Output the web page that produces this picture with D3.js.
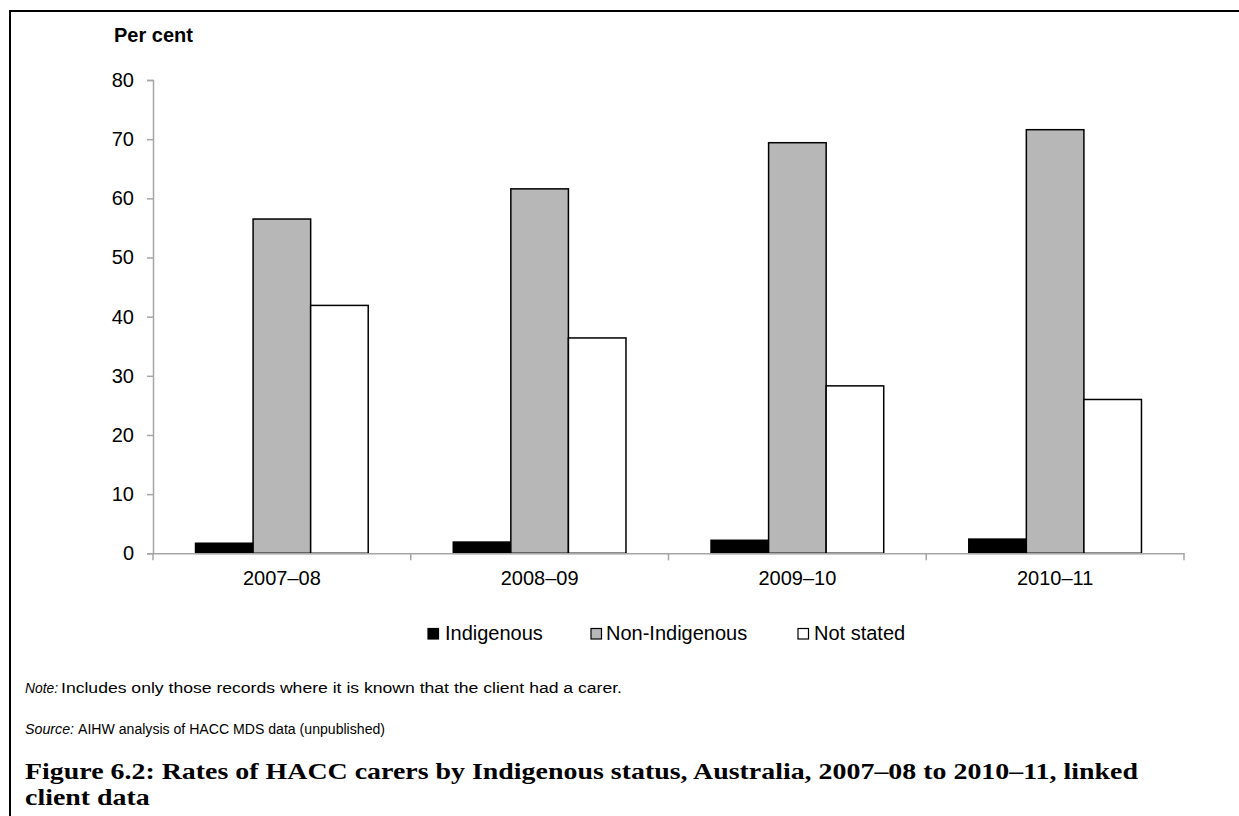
<!DOCTYPE html>
<html>
<head>
<meta charset="utf-8">
<script src="https://cdn.jsdelivr.net/npm/d3@7"></script>
<style>
  html, body { margin: 0; padding: 0; background: #fff; overflow: hidden; }
  svg { display: block; overflow: hidden; }
  text { font-family: Arial, "Liberation Sans", sans-serif; fill: #000; }
</style>
</head>
<body>
<svg id="chart" width="1239" height="816"></svg>
<script>
const categories = ["2007–08", "2008–09", "2009–10", "2010–11"];
const seriesNames = ["Indigenous", "Non-Indigenous", "Not stated"];
const indigenous = [1.7, 1.9, 2.2, 2.4];
const nonIndigenous = [56.5, 61.6, 69.4, 71.6];
const notStated = [41.9, 36.4, 28.3, 26.0];
const yTicks = [0, 10, 20, 30, 40, 50, 60, 70, 80];
const seriesColors = ["#000000", "#b7b7b7", "#ffffff"];

(function () {
const seriesValues = [indigenous, nonIndigenous, notStated];
const data = categories.map((c, i) => ({
  cat: c,
  vals: seriesNames.map((s, j) => ({ series: s, value: seriesValues[j][i], color: seriesColors[j] }))
}));

const svg = d3.select("#chart");

// frame: only the top and left edges fall inside the picture
svg.append("path")
  .attr("d", "M10,830 L10,11 L1260,11")
  .attr("fill", "none").attr("stroke", "#000").attr("stroke-width", 2);

const plotLeft = 153, plotRight = 1184, plotTop = 80, plotBottom = 553.3;

const y = d3.scaleLinear().domain([0, 80]).range([plotBottom, plotTop]);
const x0 = d3.scaleBand().domain(categories).range([plotLeft, plotRight])
  .paddingInner(0.33).paddingOuter(0.165);
const x1 = d3.scaleBand().domain(seriesNames).range([0, x0.bandwidth()]);

const axisColor = "#a6a6a6";

// bars
const g = svg.append("g");
g.selectAll("g.cat").data(data).join("g")
  .attr("class", "cat")
  .attr("transform", d => `translate(${x0(d.cat)},0)`)
  .selectAll("rect").data(d => d.vals).join("rect")
  .attr("x", d => x1(d.series))
  .attr("y", d => y(d.value))
  .attr("width", x1.bandwidth())
  .attr("height", d => y(0) - y(d.value))
  .attr("fill", d => d.color)
  .attr("stroke", "#000")
  .attr("stroke-width", 1.5);

// y axis
const yAxis = svg.append("g")
  .attr("transform", `translate(${plotLeft},0)`)
  .call(d3.axisLeft(y).tickValues(yTicks).tickSize(6).tickPadding(13).tickFormat(d3.format("d")));
yAxis.select(".domain").attr("stroke", axisColor).attr("stroke-width", 1.5);
yAxis.selectAll(".tick line").attr("stroke", axisColor).attr("stroke-width", 1.5);
yAxis.selectAll(".tick text").style("font-size", "20px").style("font-family", "Arial, 'Liberation Sans', sans-serif").attr("fill", "#000");

// x axis
const xAxis = svg.append("g")
  .attr("transform", `translate(0,${plotBottom})`)
  .call(d3.axisBottom(x0).tickSize(0).tickPadding(18));
xAxis.select(".domain").attr("stroke", axisColor).attr("stroke-width", 1.5);
xAxis.selectAll(".tick text").style("font-size", "20px").style("font-family", "Arial, 'Liberation Sans', sans-serif").attr("fill", "#000");

// category boundary ticks
const gap = (x0.step() - x0.bandwidth()) / 2;
const bounds = categories.map(c => x0(c) - gap).concat([x0(categories[categories.length - 1]) + x0.bandwidth() + gap]);
xAxis.selectAll("line.bound").data(bounds).join("line")
  .attr("class", "bound")
  .attr("x1", d => d).attr("x2", d => d)
  .attr("y1", 0).attr("y2", 7)
  .attr("stroke", axisColor).attr("stroke-width", 1.5);

// y title
svg.append("text")
  .attr("x", 114).attr("y", 42)
  .style("font-size", "20px").style("font-weight", "bold")
  .text("Per cent");

// legend
const legendItems = [
  { name: seriesNames[0], color: seriesColors[0], sx: 428, tx: 445 },
  { name: seriesNames[1], color: seriesColors[1], sx: 591, tx: 606 },
  { name: seriesNames[2], color: seriesColors[2], sx: 798, tx: 814 }
];
const lg = svg.append("g");
lg.selectAll("rect").data(legendItems).join("rect")
  .attr("x", d => d.sx).attr("y", 628.5)
  .attr("width", 10.5).attr("height", 10.5)
  .attr("fill", d => d.color).attr("stroke", "#000").attr("stroke-width", 1.2);
lg.selectAll("text").data(legendItems).join("text")
  .attr("x", d => d.tx).attr("y", 640)
  .style("font-size", "20px")
  .text(d => d.name);

// note & source: italic label + body, each condensed to reference width
function condensed(x, yPos, str, width, italic) {
  return svg.append("text").attr("x", x).attr("y", yPos)
    .attr("font-size", 15.5)
    .attr("font-style", italic ? "italic" : "normal")
    .attr("textLength", width).attr("lengthAdjust", "spacingAndGlyphs")
    .text(str);
}
condensed(25, 693, "Note:", 33, true);
condensed(61, 693, "Includes only those records where it is known that the client had a carer.", 561, false);
condensed(25, 734, "Source:", 49, true);
condensed(78, 734, "AIHW analysis of HACC MDS data (unpublished)", 307, false);

// title
const titleFont = "'Liberation Serif', 'Times New Roman', serif";
const titleText = "Figure 6.2: Rates of HACC carers by Indigenous status, Australia, 2007–08 to 2010–11, linked";
const t1 = svg.append("text").attr("x", 25).attr("y", 779)
  .style("font-family", titleFont).style("font-weight", "bold").style("font-size", "23px")
  .attr("textLength", 1113).attr("lengthAdjust", "spacingAndGlyphs")
  .text(titleText);
const t2 = svg.append("text").attr("x", 25).attr("y", 805)
  .style("font-family", titleFont).style("font-weight", "bold").style("font-size", "23px")
  .text("client data");
const tmp = svg.append("text").style("font-family", titleFont).style("font-weight", "bold").style("font-size", "23px")
  .text(titleText);
const ratio = 1113 / tmp.node().getComputedTextLength();
tmp.remove();
t2.attr("textLength", t2.node().getComputedTextLength() * ratio).attr("lengthAdjust", "spacingAndGlyphs");
})();
</script>
</body>
</html>
